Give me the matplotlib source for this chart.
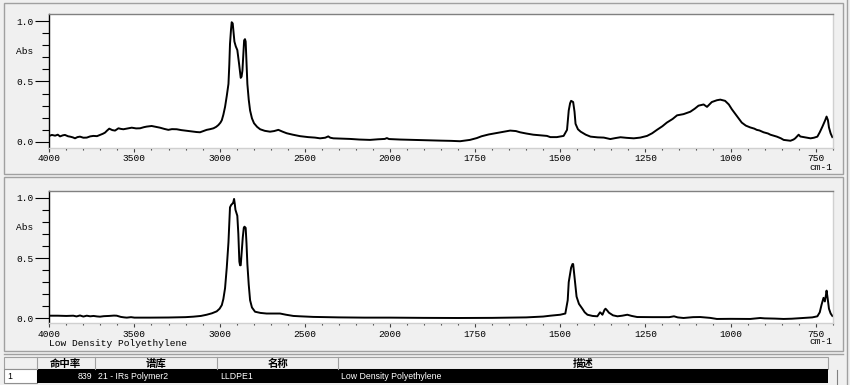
import matplotlib
matplotlib.use("Agg")
import matplotlib.pyplot as plt
import matplotlib.patches as mpatches
import numpy as np

# ---- spectrum data (wavenumber cm-1, absorbance) ----
sample_wn = [
    4000, 3985, 3966, 3950, 3937, 3920, 3908, 3890, 3878, 3862, 3849, 3835, 3820, 3800,
    3780, 3760, 3741, 3720, 3702, 3685, 3673, 3660, 3648, 3630, 3614, 3594, 3580, 3565,
    3540, 3516, 3490, 3467, 3445, 3428, 3399, 3375, 3350, 3325, 3301, 3280, 3252, 3225,
    3203, 3180, 3154, 3135, 3115, 3095, 3076, 3055, 3036, 3020, 3007, 2995, 2987, 2978,
    2968, 2958, 2948, 2943, 2939, 2933, 2929, 2923, 2918, 2913, 2905, 2896, 2886, 2876,
    2871, 2866, 2861, 2856, 2851, 2847, 2842, 2837, 2829, 2821, 2810, 2798, 2780, 2762,
    2735, 2704, 2680, 2655, 2630, 2606, 2570, 2528, 2480, 2440, 2410, 2380, 2362, 2350,
    2332, 2290, 2234, 2180, 2117, 2070, 2030, 2018, 2005, 1970, 1921, 1880, 1852, 1820,
    1794, 1765, 1745, 1731, 1710, 1687, 1665, 1647, 1630, 1618, 1600, 1579, 1560, 1539,
    1529, 1510, 1490, 1480, 1475, 1471, 1468, 1462, 1458, 1455, 1448, 1440, 1425, 1411,
    1390, 1372, 1353, 1338, 1323, 1305, 1284, 1265, 1245, 1230, 1216, 1200, 1187, 1170,
    1157, 1138, 1118, 1105, 1094, 1079, 1069, 1055, 1040, 1030, 1016, 1005, 996, 980,
    967, 955, 942, 930, 923, 915, 903, 890, 883, 864, 852, 844, 824, 815,
    810, 800, 795, 785, 775, 765, 755, 745, 738, 730, 722, 718, 714, 711,
    706, 701,
]
sample_abs = [
    0.050, 0.058, 0.052, 0.060, 0.046, 0.055, 0.058, 0.047, 0.044, 0.038, 0.030, 0.040, 0.044, 0.035,
    0.036, 0.046, 0.050, 0.048, 0.058, 0.068, 0.077, 0.095, 0.110, 0.098, 0.094, 0.113, 0.108, 0.105,
    0.112, 0.118, 0.112, 0.113, 0.122, 0.127, 0.132, 0.125, 0.118, 0.108, 0.100, 0.106, 0.105, 0.098,
    0.094, 0.090, 0.085, 0.082, 0.080, 0.090, 0.100, 0.106, 0.113, 0.125, 0.140, 0.160, 0.180, 0.225,
    0.290, 0.380, 0.480, 0.640, 0.810, 0.930, 0.990, 0.980, 0.900, 0.830, 0.790, 0.760, 0.650, 0.530,
    0.540, 0.590, 0.720, 0.840, 0.850, 0.830, 0.650, 0.480, 0.350, 0.260, 0.195, 0.155, 0.125, 0.105,
    0.092, 0.085, 0.090, 0.100, 0.085, 0.072, 0.060, 0.048, 0.040, 0.036, 0.030, 0.035, 0.046, 0.035,
    0.030, 0.028, 0.025, 0.020, 0.017, 0.022, 0.025, 0.032, 0.024, 0.020, 0.016, 0.012, 0.011, 0.009,
    0.006, 0.017, 0.032, 0.047, 0.062, 0.074, 0.085, 0.094, 0.090, 0.080, 0.070, 0.060, 0.055, 0.050,
    0.040, 0.040, 0.050, 0.100, 0.260, 0.320, 0.340, 0.330, 0.250, 0.150, 0.105, 0.085, 0.060, 0.044,
    0.038, 0.036, 0.024, 0.032, 0.039, 0.034, 0.030, 0.036, 0.050, 0.072, 0.100, 0.130, 0.160, 0.190,
    0.220, 0.230, 0.250, 0.275, 0.300, 0.310, 0.290, 0.330, 0.345, 0.350, 0.340, 0.310, 0.270, 0.210,
    0.160, 0.135, 0.120, 0.110, 0.100, 0.095, 0.080, 0.070, 0.060, 0.044, 0.030, 0.017, 0.010, 0.020,
    0.030, 0.060, 0.045, 0.040, 0.035, 0.030, 0.035, 0.044, 0.080, 0.128, 0.180, 0.210, 0.180, 0.120,
    0.070, 0.040,
]

library_wn = [
    4000, 3950, 3900, 3859, 3840, 3820, 3800, 3780, 3760, 3740, 3720, 3702, 3680, 3650,
    3620, 3604, 3580, 3560, 3545, 3520, 3500, 3408, 3300, 3200, 3154, 3110, 3076, 3045,
    3017, 3000, 2987, 2978, 2968, 2958, 2948, 2943, 2939, 2932, 2925, 2920, 2915, 2911,
    2907, 2900, 2896, 2890, 2884, 2880, 2876, 2870, 2864, 2858, 2854, 2847, 2842, 2837,
    2829, 2821, 2810, 2792, 2760, 2724, 2680, 2645, 2610, 2567, 2528, 2450, 2300, 2150,
    2000, 1900, 1800, 1700, 1600, 1550, 1529, 1500, 1485, 1478, 1475, 1468, 1464, 1462,
    1458, 1452, 1445, 1435, 1428, 1420, 1405, 1391, 1383, 1379, 1376, 1370, 1367, 1362,
    1357, 1345, 1332, 1318, 1303, 1290, 1274, 1230, 1180, 1166, 1155, 1138, 1110, 1089,
    1060, 1040, 1000, 942, 925, 913, 900, 870, 844, 820, 785, 760, 745, 738,
    733, 727, 723, 720, 718, 715, 711, 706, 701,
]
library_abs = [
    0.022, 0.022, 0.020, 0.022, 0.016, 0.024, 0.015, 0.022, 0.017, 0.020, 0.016, 0.014, 0.018, 0.020,
    0.023, 0.022, 0.012, 0.008, 0.006, 0.010, 0.006, 0.006, 0.007, 0.010, 0.014, 0.020, 0.030, 0.042,
    0.058, 0.080, 0.110, 0.160, 0.250, 0.420, 0.630, 0.800, 0.920, 0.940, 0.950, 0.960, 0.990, 0.950,
    0.900, 0.870, 0.850, 0.700, 0.470, 0.440, 0.440, 0.550, 0.670, 0.750, 0.760, 0.750, 0.620, 0.450,
    0.280, 0.150, 0.090, 0.055, 0.045, 0.040, 0.040, 0.040, 0.030, 0.020, 0.017, 0.012, 0.008, 0.006,
    0.006, 0.004, 0.003, 0.004, 0.008, 0.015, 0.022, 0.030, 0.040, 0.150, 0.300, 0.420, 0.450, 0.450,
    0.340, 0.180, 0.120, 0.080, 0.050, 0.030, 0.020, 0.017, 0.050, 0.040, 0.030, 0.070, 0.080, 0.065,
    0.047, 0.025, 0.017, 0.022, 0.030, 0.020, 0.011, 0.010, 0.010, 0.017, 0.008, 0.003, 0.010, 0.011,
    0.004, -0.005, -0.004, -0.005, 0.000, 0.003, 0.000, -0.002, -0.005, -0.003, 0.003, 0.008, 0.017, 0.050,
    0.110, 0.170, 0.140, 0.190, 0.230, 0.170, 0.080, 0.040, 0.020,
]

major_ticks = [4000, 3500, 3000, 2500, 2000, 1750, 1500, 1250, 1000, 750]
library_name = "Low Density Polyethylene"

table_headers = ["", "命中率", "谱库", "名称", "描述"]
table_row = ["1", "839", "21 - IRs Polymer2", "LLDPE1", "Low Density Polyethylene"]

W, H = 850, 385
BG = "#f0f0f0"
MONO = "Liberation Mono"


def fwd(x):
    # OMNIC style axis: scale doubles below 2000 cm-1
    x = np.asarray(x, dtype=float)
    return np.where(x >= 2000, x, 2000 - (2000 - x) * 2)


def inv(u):
    u = np.asarray(u, dtype=float)
    return np.where(u >= 2000, u, 2000 - (2000 - u) / 2)


def fx(x):
    return x / W


def fy(y):
    return 1 - y / H


def px_rect(fig, x0, y0, x1, y1, face, edge="none", lw=0.8, z=1):
    rect = mpatches.Rectangle(
        (fx(x0), fy(y1)), fx(x1) - fx(x0), fy(y0) - fy(y1),
        transform=fig.transFigure, facecolor=face, edgecolor=edge, linewidth=lw, zorder=z,
    )
    fig.patches.append(rect)


def px_line(fig, xs, ys, color, lw=0.8):
    fig.lines.append(plt.Line2D([fx(v) for v in xs], [fy(v) for v in ys],
                                transform=fig.transFigure, color=color, linewidth=lw))


def spectrum_axis(fig, top, bottom, wn, absorb, ylim):
    ax = fig.add_axes([fx(49.3), fy(bottom), fx(832.7) - fx(49.3), fy(top) - fy(bottom)])
    ax.set_zorder(3)
    ax.set_facecolor("white")
    ax.plot(wn, absorb, color="black", linewidth=1.4)
    ax.set_xscale("function", functions=(fwd, inv))
    ax.set_xlim(4000, 700)
    ax.set_ylim(*ylim)

    minor = list(range(3900, 2000, -100)) + list(range(1950, 699, -50))
    minor = [m for m in minor if m not in major_ticks]
    ax.set_xticks(major_ticks)
    ax.set_xticklabels([str(t) for t in major_ticks], fontsize=6.8, family=MONO)
    ax.set_xticks(minor, minor=True)
    ax.tick_params(axis="x", which="major", length=3, width=0.8, pad=1.5, color="#404040")
    ax.tick_params(axis="x", which="minor", length=1.5, width=0.8, color="#404040")

    ax.set_yticks([0.0, 0.5, 1.0])
    ax.set_yticklabels(["0.0", "0.5", "1.0"], fontsize=6.8, family=MONO)
    ax.set_yticks(np.arange(0.1, 1.0, 0.1), minor=True)
    ax.tick_params(axis="y", which="major", length=10, width=0.8, pad=1)
    ax.tick_params(axis="y", which="minor", length=5, width=0.8)

    ax.spines["left"].set_color("black")
    ax.spines["left"].set_linewidth(1.0)
    ax.spines["top"].set_color("#808080")
    ax.spines["right"].set_color("#d0d0d0")
    ax.spines["bottom"].set_color("#d0d0d0")
    for side in ("top", "right", "bottom"):
        ax.spines[side].set_linewidth(1.0)
    return ax


fig = plt.figure(figsize=(W / 100, H / 100), dpi=100)
fig.patch.set_facecolor(BG)

# panel frames (behind the axes)
px_rect(fig, 4, 3, 843, 174, BG, "#a0a0a0", 1.0, z=-1)
px_rect(fig, 4, 177, 843, 351, BG, "#a0a0a0", 1.0, z=-1)
px_line(fig, [846.5, 846.5], [0, 385], "#a0a0a0", 1.0)

spectrum_axis(fig, 14, 148, sample_wn, sample_abs, (-0.05, 1.058))
spectrum_axis(fig, 190.7, 323.3, library_wn, library_abs, (-0.041, 1.058))

fig.text(fx(16), fy(52), "Abs", fontsize=6.8, family=MONO, va="center")
fig.text(fx(16), fy(228), "Abs", fontsize=6.8, family=MONO, va="center")
fig.text(fx(832), fy(167), "cm-1", fontsize=6.8, family=MONO, va="center", ha="right")
fig.text(fx(832), fy(342), "cm-1", fontsize=6.8, family=MONO, va="center", ha="right")
fig.text(fx(49), fy(343), library_name, fontsize=6.8, family=MONO, va="center")

# hit list table
cols = [4.3, 36.7, 95, 217.3, 338.3, 828.3]
head_top, head_bot, row_bot = 356.7, 369.3, 383
px_line(fig, [4, 843], [353.5, 353.5], "#a0a0a0", 1.0)
px_rect(fig, cols[0], head_top, cols[-1], head_bot, BG, "#a0a0a0", 0.8)
for c in cols[1:-1]:
    px_line(fig, [c, c], [head_top, head_bot], "#a0a0a0", 0.8)
for i, label in enumerate(table_headers):
    if label:
        fig.text(fx((cols[i] + cols[i + 1]) / 2), fy((head_top + head_bot) / 2 + 0.5), label,
                 fontsize=7.5, family=["Noto Sans CJK SC", "DejaVu Sans"], fontweight="bold",
                 ha="center", va="center")

px_rect(fig, cols[0], head_bot, cols[1], row_bot, "white", "#909090", 0.8)
px_rect(fig, cols[1], head_bot, cols[-1], row_bot, "black")
row_y = fy((head_bot + row_bot) / 2)
fig.text(fx(7), row_y, table_row[0], fontsize=6.3, family="Liberation Sans", va="center")
fig.text(fx(cols[2] - 3), row_y, table_row[1], fontsize=6.3, family="Liberation Sans",
         va="center", ha="right", color="white")
for i in (2, 3, 4):
    fig.text(fx(cols[i] + 3), row_y, table_row[i], fontsize=6.3, family="Liberation Sans",
             va="center", color="white")
px_line(fig, [836.7, 836.7], [370, 385], "#808080", 0.8)

fig.savefig("out.png", dpi=100, facecolor=BG)
